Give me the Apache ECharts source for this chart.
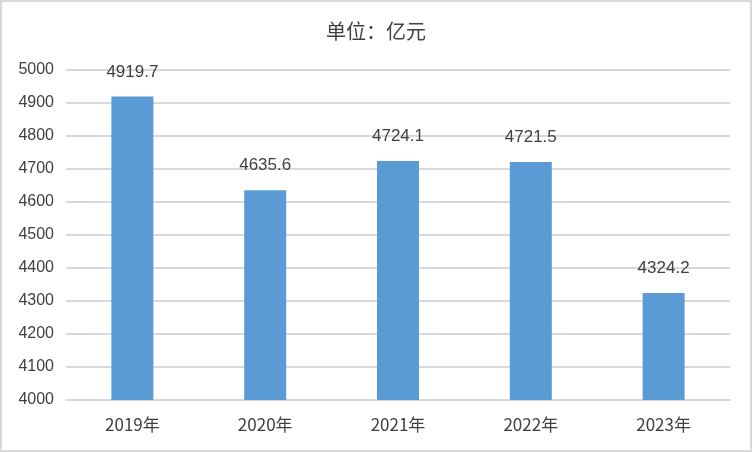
<!DOCTYPE html>
<html><head><meta charset="utf-8">
<script src="https://cdn.jsdelivr.net/npm/echarts@6/dist/echarts.min.js"></script>
<style>html,body{margin:0;padding:0;background:#fff}
#c{position:absolute;left:0;top:0;width:748px;height:448px;border:2px solid #d9d9d9;background:#fff}</style>
</head><body><div id="c"></div>
<script>
const categories = ["2019年","2020年","2021年","2022年","2023年"];
const values = [4919.7, 4635.6, 4724.1, 4721.5, 4324.2];
const yMin = 4000, yMax = 5000, yStep = 100;
const chart = echarts.init(document.getElementById('c'));
chart.setOption({
  animation:false,
  title:{text:"单位：亿元",left:'center',top:14,textStyle:{fontSize:20,fontWeight:'normal',color:'#404040',fontFamily:'"Noto Sans CJK SC",sans-serif'}},
  grid:{left:64,right:20,top:68,bottom:50,containLabel:false},
  xAxis:{type:'category',data:categories,axisTick:{show:false},
    axisLine:{lineStyle:{color:'#d9d9d9',width:2}},
    axisLabel:{fontSize:17,color:'#404040',margin:16,fontFamily:'"Noto Sans CJK SC",sans-serif'}},
  yAxis:{type:'value',min:yMin,max:yMax,interval:yStep,
    axisLine:{show:false},axisTick:{show:false},
    splitLine:{lineStyle:{color:'#d9d9d9',width:2}},
    axisLabel:{fontSize:16,color:'#404040',margin:12,formatter:v=>String(v),fontFamily:'"Liberation Sans",Arial,sans-serif'}},
  series:[{type:'bar',data:values,barWidth:42,itemStyle:{color:'#5b9bd5'},
    label:{show:true,position:'top',distance:16,fontSize:17,color:'#404040',fontFamily:'"Liberation Sans",Arial,sans-serif',formatter:p=>p.value.toFixed(1)}}]
});
</script></body></html>
